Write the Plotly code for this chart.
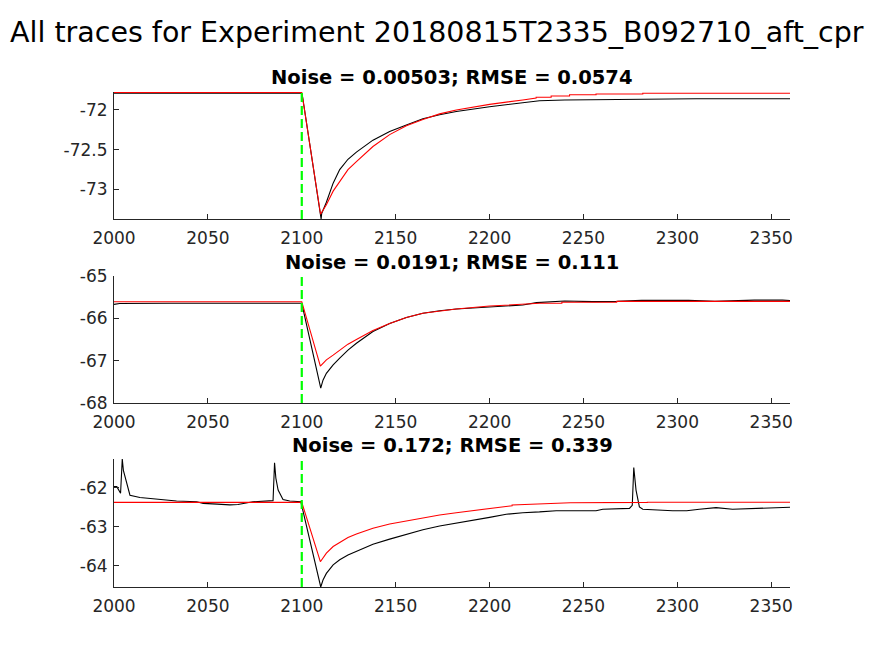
import plotly.graph_objects as go
from plotly.subplots import make_subplots

main_title = "All traces for Experiment 20180815T2335_B092710_aft_cpr"
subtitles = ["Noise = 0.00503; RMSE = 0.0574",
             "Noise = 0.0191; RMSE = 0.111",
             "Noise = 0.172; RMSE = 0.339"]
stim_time = 2100
x_ticks = [2000, 2050, 2100, 2150, 2200, 2250, 2300, 2350]
x_range = [2000, 2360]

# ---- trace 1 ----
t1_data = [2000, 2030, 2060, 2099.5, 2100.2, 2102, 2104, 2106, 2108, 2110.3, 2110.6, 2113.1,
           2116.7, 2120.2, 2124.6, 2129.1, 2137.9, 2146.8, 2155.7, 2164.5, 2173.4, 2182.3,
           2200, 2217.7, 2226.6, 2240, 2260, 2280, 2310, 2340, 2360]
v1_data = [-71.79, -71.79, -71.79, -71.79, -71.80, -72.08, -72.38, -72.68, -72.98, -73.37, -73.30, -73.16,
           -72.92, -72.75, -72.62, -72.53, -72.38, -72.27, -72.19, -72.11, -72.06, -72.02,
           -71.96, -71.91, -71.885, -71.875, -71.87, -71.865, -71.86, -71.86, -71.86]
t1_fit = [2000, 2100, 2110, 2113.1, 2116.7, 2120.2, 2124.6, 2129.1, 2137.9, 2146.8, 2155.7,
          2164.5, 2173.4, 2182.3, 2200, 2217.7, 2224.8, 2224.8, 2232.8, 2232.8, 2242.6, 2242.6,
          2256.7, 2256.7, 2281.6, 2281.6, 2360]
v1_fit = [-71.78, -71.78, -73.31, -73.19, -73.02, -72.90, -72.75, -72.65, -72.46, -72.31, -72.20,
          -72.12, -72.05, -72.00, -71.93, -71.875, -71.85, -71.84, -71.84, -71.825, -71.825, -71.81,
          -71.81, -71.80, -71.80, -71.79, -71.79]
y1_ticks = [-73, -72.5, -72]
y1_range = [-73.37, -71.775]

# ---- trace 2 ----
t2_data = [2000, 2003, 2030, 2060, 2085, 2100, 2110.1, 2111.3, 2113.1, 2116.7, 2120.2, 2124.6,
           2129.1, 2137.9, 2146.8, 2155.7, 2164.5, 2173.4, 2182.3, 2200, 2217.7, 2225, 2240,
           2255, 2268, 2281, 2306, 2320, 2341, 2356, 2360]
v2_data = [-65.67, -65.65, -65.645, -65.65, -65.645, -65.645, -67.65, -67.46, -67.30, -67.10, -66.94, -66.75,
           -66.59, -66.31, -66.12, -65.98, -65.88, -65.82, -65.78, -65.74, -65.685, -65.63, -65.59,
           -65.605, -65.60, -65.575, -65.575, -65.60, -65.57, -65.57, -65.58]
t2_fit = [2000, 2100, 2109.9, 2113.1, 2116.7, 2120.2, 2124.6, 2129.1, 2137.9, 2146.8, 2155.7,
          2164.5, 2173.4, 2182.3, 2200, 2217.7, 2226.6, 2238.5, 2238.5, 2267.7, 2267.7, 2360]
v2_fit = [-65.607, -65.607, -67.13, -66.98, -66.87, -66.75, -66.61, -66.50, -66.29, -66.12, -65.98,
          -65.88, -65.83, -65.78, -65.71, -65.67, -65.645, -65.645, -65.62, -65.62, -65.60, -65.60]
y2_ticks = [-68, -67, -66, -65]
y2_range = [-68, -65]

# ---- trace 3 ----
t3_data = [2000, 2001.5, 2003.5, 2004.0, 2004.4, 2005.0, 2006.8, 2008.5, 2013.8, 2024.5, 2033.3,
           2044, 2047.5, 2055, 2061.7, 2066, 2070.6, 2074, 2084.7, 2085.5, 2086.2, 2087.4, 2090,
           2093.6, 2099.5, 2110.1, 2111.3, 2113.1, 2116.7, 2120.2, 2124.6, 2129.1, 2137.9, 2146.8,
           2155.7, 2164.5, 2173.4, 2182.3, 2200, 2208.9, 2217.7, 2226.6, 2235.5, 2256.7, 2260.3,
           2274.5, 2276.0, 2276.8, 2277.3, 2278, 2279.8, 2281.6, 2297.5, 2305, 2311.7, 2320.6,
           2329.4, 2340, 2350.7, 2360]
v3_data = [-61.97, -61.97, -62.14, -61.80, -61.26, -61.55, -61.89, -62.19, -62.25, -62.30, -62.34,
           -62.36, -62.40, -62.42, -62.44, -62.43, -62.40, -62.36, -62.33, -61.36, -61.75, -62.06, -62.30,
           -62.34, -62.36, -64.55, -64.37, -64.20, -63.98, -63.85, -63.73, -63.64, -63.45, -63.32,
           -63.19, -63.08, -62.98, -62.91, -62.76, -62.68, -62.64, -62.62, -62.59, -62.59, -62.55,
           -62.53, -62.45, -61.48, -61.70, -62.06, -62.49, -62.55, -62.59, -62.59, -62.55, -62.51,
           -62.55, -62.53, -62.50, -62.50]
t3_fit = [2000, 2100, 2109.9, 2113.1, 2116.7, 2120.2, 2124.6, 2129.1, 2137.9, 2146.8, 2155.7,
          2164.5, 2173.4, 2182.3, 2200, 2205.3, 2212, 2212, 2224, 2224, 2243, 2243, 2284, 2284, 2360]
v3_fit = [-62.375, -62.375, -63.90, -63.68, -63.51, -63.40, -63.28, -63.19, -63.04, -62.93, -62.85,
          -62.77, -62.70, -62.64, -62.53, -62.49, -62.46, -62.44, -62.42, -62.41, -62.39, -62.385,
          -62.375, -62.37, -62.37]
y3_ticks = [-64, -63, -62]
y3_range = [-64.55, -61.26]

panels = [
    (t1_data, v1_data, t1_fit, v1_fit, y1_ticks, y1_range),
    (t2_data, v2_data, t2_fit, v2_fit, y2_ticks, y2_range),
    (t3_data, v3_data, t3_fit, v3_fit, y3_ticks, y3_range),
]

W, H = 874, 656
OFF = 8  # page body margin offset
x_dom = [(114 - OFF) / W, (790 - OFF) / W]
y_doms_px = [(92, 219), (276, 403), (459, 587)]
title_px = [77, 262, 445]

fig = make_subplots(rows=3, cols=1)
axcol = "#262626"
tickfont = dict(family="DejaVu Sans", size=17, color=axcol)

for i, (td, vd, tf, vf, yt, yr) in enumerate(panels):
    r = i + 1
    fig.add_trace(go.Scatter(x=td, y=vd, mode="lines", line=dict(color="black", width=1.1),
                             showlegend=False, hoverinfo="skip"), row=r, col=1)
    fig.add_trace(go.Scatter(x=tf, y=vf, mode="lines", line=dict(color="#ff0000", width=1.1),
                             showlegend=False, hoverinfo="skip"), row=r, col=1)
    top, bot = y_doms_px[i]
    xname = "xaxis" if r == 1 else f"xaxis{r}"
    yname = "yaxis" if r == 1 else f"yaxis{r}"
    fig.layout[xname].update(domain=x_dom, range=x_range, tickvals=x_ticks,
                             ticktext=[str(v) for v in x_ticks], automargin=False,
                             ticks="inside", ticklen=5, tickcolor=axcol, tickwidth=1,
                             showline=True, linecolor=axcol, linewidth=1, mirror=False,
                             showgrid=False, zeroline=False, tickfont=tickfont,
                             ticklabelstandoff=4)
    fig.layout[yname].update(domain=[1 - (bot - OFF) / H, 1 - (top - OFF) / H], range=yr,
                             tickvals=yt, ticktext=[("%g" % v) for v in yt], automargin=False,
                             ticks="inside", ticklen=5, tickcolor=axcol, tickwidth=1,
                             showline=True, linecolor=axcol, linewidth=1, mirror=False,
                             showgrid=False, zeroline=False, tickfont=tickfont,
                             ticklabelstandoff=2)
    xr = "x" if r == 1 else f"x{r}"
    yr_ref = "y" if r == 1 else f"y{r}"
    fig.add_shape(type="line", xref=xr, yref=f"{yr_ref} domain", x0=stim_time, x1=stim_time,
                  y0=0, y1=1, line=dict(color="#00ff00", width=2.2, dash="9px,4px"))
    fig.add_annotation(text="<b>" + subtitles[i] + "</b>", xref="paper", yref="paper",
                       x=(x_dom[0] + x_dom[1]) / 2, y=1 - (title_px[i] - OFF) / H,
                       xanchor="center", yanchor="middle", showarrow=False,
                       font=dict(family="DejaVu Sans", size=19.5, color="black"))

fig.add_annotation(text=main_title, xref="paper", yref="paper", x=(437 - OFF) / W,
                   y=1 - (33 - OFF) / H, xanchor="center", yanchor="middle", showarrow=False,
                   font=dict(family="DejaVu Sans", size=28.5, color="black"))

fig.update_layout(width=W, height=H, margin=dict(l=0, r=0, t=0, b=0, autoexpand=False),
                  paper_bgcolor="white", plot_bgcolor="white")

fig.write_html("out.html")
